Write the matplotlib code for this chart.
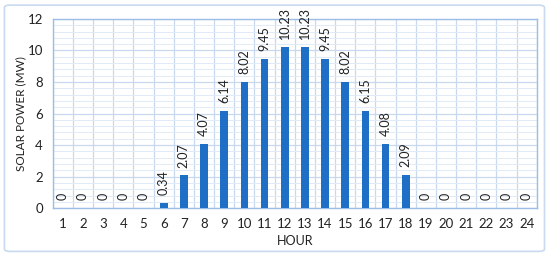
import numpy as np
import matplotlib.pyplot as plt
from matplotlib.patches import FancyBboxPatch
from matplotlib.ticker import MultipleLocator

plt.rcParams['font.family'] = ['Lato', 'DejaVu Sans']

hours = list(range(1, 25))
power = [0, 0, 0, 0, 0, 0.34, 2.07, 4.07, 6.14, 8.02, 9.45, 10.23,
         10.23, 9.45, 8.02, 6.15, 4.08, 2.09, 0, 0, 0, 0, 0, 0]

fig = plt.figure(figsize=(5.5, 2.56), dpi=100)
ax = fig.add_axes([0.096, 0.187, 0.880, 0.739])

# outer frame
fig.patches.append(FancyBboxPatch((0.008, 0.018), 0.982, 0.962,
                                  boxstyle='round,pad=0,rounding_size=0.01',
                                  transform=fig.transFigure, fill=False,
                                  edgecolor='#c9daf0', linewidth=1.2))

x = np.arange(len(hours))
ax.bar(x, power, width=0.38, color='#1f6fc6', zorder=3)

for xi, v in zip(x, power):
    ax.text(xi, v + 0.5, '%g' % v if v == 0 else '%.2f' % v, rotation=90,
            ha='center', va='bottom', fontsize=9, color='#222222', zorder=4)

ax.set_xlim(-0.5, 23.5)
ax.set_ylim(0, 12)
ax.set_xticks(x)
ax.set_xticklabels([str(h) for h in hours])
ax.set_yticks(range(0, 13, 2))
ax.yaxis.set_minor_locator(MultipleLocator(0.4))
ax.set_xticks(np.arange(-0.5, 24, 1), minor=True)

ax.grid(which='major', axis='y', color='#c8d9ef', linewidth=0.9, zorder=0)
ax.grid(which='minor', axis='y', color='#e1eaf7', linewidth=0.7, zorder=0)
ax.grid(which='minor', axis='x', color='#c8d9ef', linewidth=0.9, zorder=0)
ax.tick_params(which='both', length=0, labelsize=9.5, colors='#222222')
ax.tick_params(axis='x', pad=7)
ax.tick_params(axis='y', pad=7)

for s in ax.spines.values():
    s.set_color('#9dbde6')
    s.set_linewidth(1.0)

ax.set_xlabel('HOUR', fontsize=9, labelpad=4, color='#222222')
ax.set_ylabel('SOLAR POWER (MW)', fontsize=8.5, labelpad=1, color='#222222')

plt.savefig('out.png', dpi=100)
